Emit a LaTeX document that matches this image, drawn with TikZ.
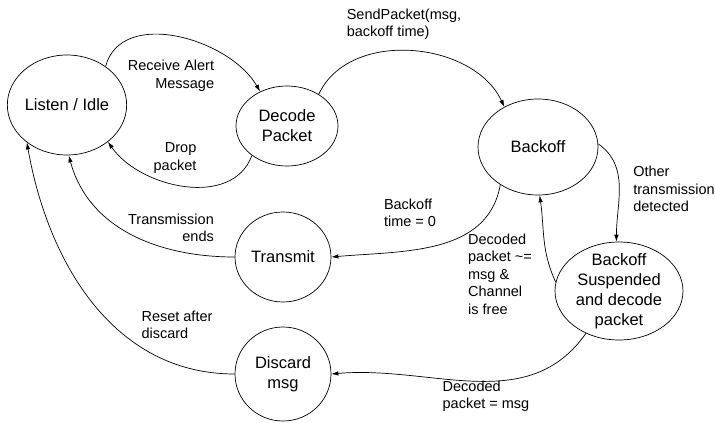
\documentclass[tikz,border=0pt]{standalone}
\usepackage{fontspec}
\setmainfont{Liberation Sans}
\usepackage{tikz}
\usetikzlibrary{positioning, calc, shapes.geometric, arrows.meta}
\tikzstyle{Arrow} = [
%Thin line with a small filled tip:
line width=0.7pt,
-{Latex[length=7pt, width=4.5pt]}
]

\begin{document}
\begin{tikzpicture}[
			x=1pt, y=1pt,
			state/.style = {ellipse, draw, line width=0.7pt, align=center, inner sep=0pt, font=\fontsize{16.5}{20}\selectfont},
			lbl/.style = {font=\fontsize{14.5}{17.5}\selectfont, inner sep=0pt},
		]
		\useasboundingbox (0,0) rectangle (715,-423);

		\node[state, minimum width=110, minimum height=100](L) at (67,-105){Listen / Idle};
		\node[state, minimum width=102, minimum height=80](D) at (287,-126){Decode\\Packet};
		\node[state, minimum width=120, minimum height=96](B) at (538,-147){Backoff};
		\node[state, minimum width=96, minimum height=90](T) at (283,-257){Transmit};
		\node[state, minimum width=96, minimum height=94](X) at (283,-374){Discard\\msg};
		\node[state, minimum width=128, minimum height=98, inner ysep=-4pt](S) at (619,-291){Backoff\\Suspended\\and decode\\packet};

		\draw[Arrow](L.45) to[out=75, in=120] (D.128);
		\draw[Arrow](D.220) to[out=250, in=-55] (L.-42);
		\draw[Arrow](D.45) to[out=65, in=115] (B.130);
		\draw[Arrow](B.225) to[out=260, in=5] (T.east);
		\draw[Arrow](T.west) to[out=180, in=-75] (L.-88);
		\draw[Arrow](X.west) to[out=180, in=-80] (L.223);
		\draw[Arrow](B.3) to[out=-35, in=90] (S.93);
		\draw[Arrow](S.172) to[out=115, in=-82] (B.-88);
		\draw[Arrow](S.232) to[out=235, in=5] (X.east);

		\node[lbl, align=right](recv) at (171,-76){Receive Alert\\Message};
		\node[lbl, align=right](drop) at (175,-158){Drop\\packet};
		\node[lbl, align=left](send) at (404,-24){SendPacket(msg,\\backoff time)};
		\node[lbl, align=left](zero) at (410,-213){Backoff\\time = 0};
		\node[lbl, align=right](ends) at (171,-228){Transmission\\ends};
		\node[lbl, align=left](reset) at (177,-325){Reset after\\discard};
		\node[lbl, align=left](other) at (674,-189){Other\\transmission\\detected};
		\node[lbl, align=left](free) at (500,-274){Decoded\\packet \textasciitilde=\\msg \&\\Channel\\is free};
		\node[lbl, align=left](equal) at (486,-396){Decoded\\packet = msg};

	\end{tikzpicture}
\end{document}
